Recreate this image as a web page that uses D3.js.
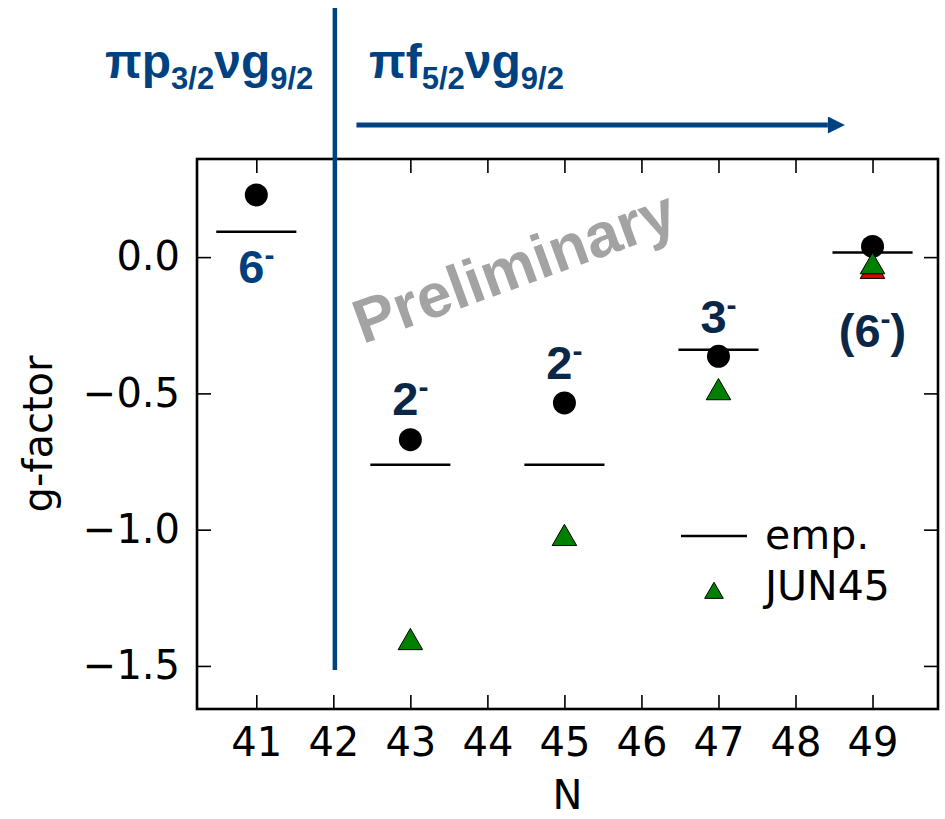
<!DOCTYPE html>
<html>
<head>
<meta charset="utf-8">
<script src="https://cdn.jsdelivr.net/npm/d3@7"></script>
<style>
  body { margin: 0; background: #fff; }
  svg { display: block; }
</style>
</head>
<body>
<div id="chart"></div>
<script>
// N values (neutron number) and g-factors
const expN = [41, 43, 45, 47, 49]
const expG = [0.228, -0.67, -0.535, -0.364, 0.039]

const empN = [41, 43, 45, 47, 49]
const empG = [0.093, -0.762, -0.762, -0.34, 0.017]

const junN = [43, 45, 47, 49]
const junG = [-1.407, -1.025, -0.49, -0.028]

// only visible one, hidden under the green markers otherwise
const redN = [49]
const redG = [-0.045]

const xTicks = [41, 42, 43, 44, 45, 46, 47, 48, 49]
const yTicks = [-1.5, -1.0, -0.5, 0.0]

const spinLabels = [
  {n: 41, text: '6', paren: false, base: 283, color: '#003f7d'},
  {n: 43, text: '2', paren: false, base: 415, color: '#0b2747'},
  {n: 45, text: '2', paren: false, base: 379, color: '#0b2747'},
  {n: 47, text: '3', paren: false, base: 333, color: '#0b2747'},
  {n: 49, text: '6', paren: true, base: 347, color: '#0b2747'}
]

const W = 945, H = 819
const margin = {left: 197, top: 159, right: 7, bottom: 110}
const blue = '#00427f'

const svg = d3.select('#chart')
  .append('svg')
  .attr('width', W)
  .attr('height', H)

const x = d3.scaleLinear()
  .domain([40.23, 49.85])
  .range([margin.left, W - margin.right])

const y = d3.scaleLinear()
  .domain([-1.658, 0.36])
  .range([H - margin.bottom, margin.top])

const font = 'DejaVu Sans, Bitstream Vera Sans, sans-serif'
const bold = 'Liberation Sans, Arial, Helvetica, sans-serif'

// axes, matplotlib classic style: ticks inward on every side
function styleAxis(g) {
  g.select('.domain').remove()
  g.selectAll('.tick line').attr('stroke', '#000').attr('stroke-width', 1.6)
  g.selectAll('.tick text')
    .attr('fill', '#000')
    .style('font-family', font)
    .style('font-size', '40px')
}

svg.append('g')
  .attr('transform', `translate(0,${y.range()[0]})`)
  .call(d3.axisBottom(x).tickValues(xTicks).tickSize(-14).tickPadding(19).tickFormat(d3.format('d')))
  .call(styleAxis)

svg.append('g')
  .attr('transform', `translate(0,${y.range()[1]})`)
  .call(d3.axisTop(x).tickValues(xTicks).tickSize(-14).tickFormat(''))
  .call(styleAxis)

svg.append('g')
  .attr('transform', `translate(${x.range()[0]},0)`)
  .call(d3.axisLeft(y).tickValues(yTicks).tickSize(-14).tickPadding(17).tickFormat(d3.format('.1f')))
  .call(styleAxis)

svg.append('g')
  .attr('transform', `translate(${x.range()[1]},0)`)
  .call(d3.axisRight(y).tickValues(yTicks).tickSize(-14).tickFormat(''))
  .call(styleAxis)

svg.append('rect')
  .attr('x', x.range()[0])
  .attr('y', y.range()[1])
  .attr('width', x.range()[1] - x.range()[0])
  .attr('height', y.range()[0] - y.range()[1])
  .attr('fill', 'none')
  .attr('stroke', '#000')
  .attr('stroke-width', 2.6)

// axis titles
svg.append('text')
  .attr('x', (x.range()[0] + x.range()[1]) / 2)
  .attr('y', 809)
  .attr('text-anchor', 'middle')
  .style('font-family', font)
  .style('font-size', '40px')
  .text('N')

svg.append('text')
  .attr('transform', `translate(52,${(y.range()[0] + y.range()[1]) / 2}) rotate(-90)`)
  .attr('text-anchor', 'middle')
  .style('font-family', font)
  .style('font-size', '40px')
  .text('g-factor')

// watermark
svg.append('text')
  .attr('transform', 'translate(514,266) rotate(-20)')
  .attr('text-anchor', 'middle')
  .attr('dy', '0.35em')
  .attr('fill', '#a3a3a3')
  .style('font-family', bold)
  .style('font-weight', 'bold')
  .style('font-size', '62px')
  .text('Preliminary')

// empirical values as short horizontal bars
const emp = empN.map((n, i) => ({n, g: empG[i]}))
svg.selectAll('.emp')
  .data(emp)
  .enter()
  .append('line')
  .attr('class', 'emp')
  .attr('x1', d => x(d.n - 0.52))
  .attr('x2', d => x(d.n + 0.52))
  .attr('y1', d => y(d.g))
  .attr('y2', d => y(d.g))
  .attr('stroke', '#000')
  .attr('stroke-width', 2.6)

// experiment
const exp = expN.map((n, i) => ({n, g: expG[i]}))
svg.selectAll('.exp')
  .data(exp)
  .enter()
  .append('circle')
  .attr('class', 'exp')
  .attr('cx', d => x(d.n))
  .attr('cy', d => y(d.g))
  .attr('r', 11.5)
  .attr('fill', '#000')

const tri = d3.symbol().type(d3.symbolTriangle).size(260)

function triangles(cls, ns, gs, color) {
  svg.selectAll('.' + cls)
    .data(ns.map((n, i) => ({n, g: gs[i]})))
    .enter()
    .append('path')
    .attr('class', cls)
    .attr('d', tri)
    .attr('transform', d => `translate(${x(d.n)},${y(d.g) + 2})`)
    .attr('fill', color)
    .attr('stroke', '#000')
    .attr('stroke-width', 1)
}
triangles('red', redN, redG, '#e00000')
triangles('jun', junN, junG, '#008000')

// spin labels
spinLabels.forEach(l => {
  const t = svg.append('text')
    .attr('x', x(l.n))
    .attr('y', l.base)
    .attr('text-anchor', 'middle')
    .attr('fill', l.color)
    .style('font-family', bold)
    .style('font-weight', 'bold')
    .style('font-size', '47px')
  if (l.paren) t.append('tspan').text('(')
  t.append('tspan').text(l.text)
  t.append('tspan').attr('dy', -18).style('font-size', '30px').text('-')
  if (l.paren) t.append('tspan').attr('dy', 18).text(')')
})

// legend
const lg = svg.append('g')
lg.append('line')
  .attr('x1', 681).attr('x2', 747)
  .attr('y1', 536).attr('y2', 536)
  .attr('stroke', '#000')
  .attr('stroke-width', 2.6)
lg.append('text')
  .attr('x', 765).attr('y', 549)
  .style('font-family', font)
  .style('font-size', '41px')
  .text('emp.')
lg.append('path')
  .attr('d', d3.symbol().type(d3.symbolTriangle).size(150))
  .attr('transform', 'translate(714,593)')
  .attr('fill', '#008000')
  .attr('stroke', '#000')
  .attr('stroke-width', 1)
lg.append('text')
  .attr('x', 765).attr('y', 600)
  .style('font-family', font)
  .style('font-size', '41px')
  .text('JUN45')

// configuration divider and arrow
svg.append('line')
  .attr('x1', x(42.02)).attr('x2', x(42.02))
  .attr('y1', 8).attr('y2', 670)
  .attr('stroke', blue)
  .attr('stroke-width', 4.5)

svg.append('defs').append('marker')
  .attr('id', 'head')
  .attr('viewBox', '0 0 10 10')
  .attr('refX', 0).attr('refY', 5)
  .attr('markerWidth', 3.6).attr('markerHeight', 3.4)
  .attr('markerUnits', 'strokeWidth')
  .attr('orient', 'auto')
  .append('path')
  .attr('d', 'M0,0L10,5L0,10z')
  .attr('fill', blue)

svg.append('line')
  .attr('x1', x(42.3)).attr('x2', x(48.42))
  .attr('y1', 125).attr('y2', 125)
  .attr('stroke', blue)
  .attr('stroke-width', 5)
  .attr('marker-end', 'url(#head)')

function config(xPos, parts) {
  const t = svg.append('text')
    .attr('x', xPos).attr('y', 78)
    .attr('fill', blue)
    .style('font-family', bold)
    .style('font-weight', 'bold')
    .style('font-size', '48px')
  parts.forEach((p, i) => {
    if (i % 2 === 0) t.append('tspan').attr('dy', i ? -11 : 0).text(p)
    else t.append('tspan').attr('dy', 11).style('font-size', '31px').text(p)
  })
}
config(105, ['πp', '3/2', 'νg', '9/2'])
config(369, ['πf', '5/2', 'νg', '9/2'])
</script>
</body>
</html>
